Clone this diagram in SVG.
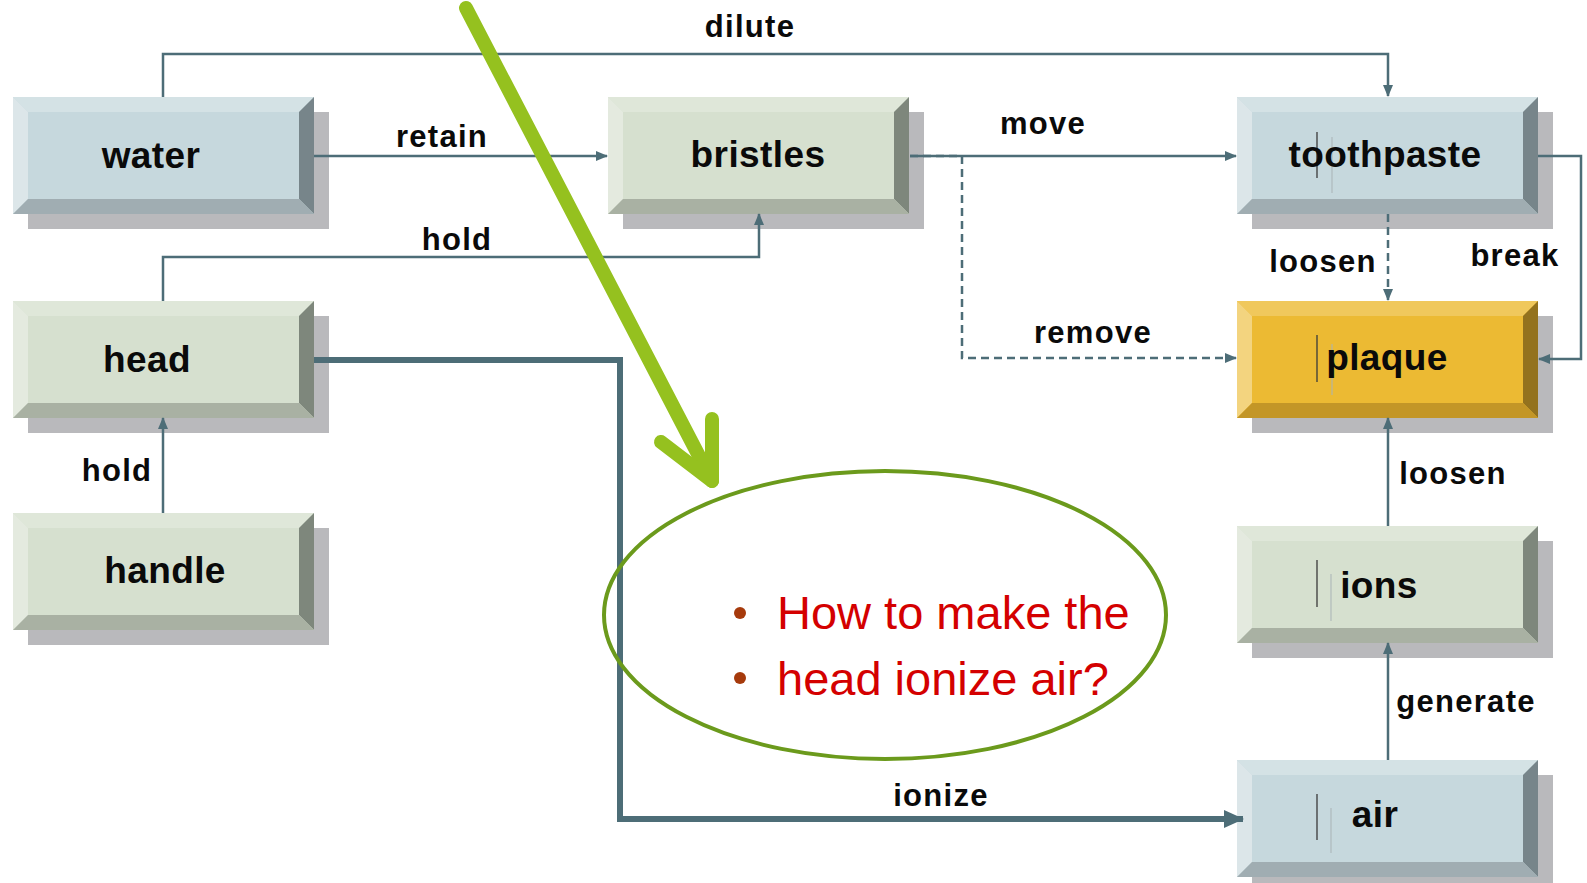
<svg xmlns="http://www.w3.org/2000/svg" xmlns:xlink="http://www.w3.org/1999/xlink" width="1587" height="883" viewBox="0 0 1587 883">
  <style>
    .node-text { font-family: "Liberation Sans", Arial, sans-serif; font-weight: bold; font-size: 37px; fill: #0a0a0a; text-anchor: middle; letter-spacing: 0.4px; }
    .label { font-family: "Liberation Sans", Arial, sans-serif; font-weight: bold; font-size: 31px; fill: #0a0a0a; text-anchor: middle; letter-spacing: 1.3px; }
    .edge { fill: none; stroke: #4d6d77; stroke-width: 2.5; }
    .dashed { stroke-dasharray: 8 5; }
    .thick { stroke-width: 6; }
    .caret { stroke: #3a3a3a; stroke-width: 1.3; }
    .caret-faint { stroke: #a9b3b6; stroke-width: 1; }
    .question { font-family: "Liberation Sans", Arial, sans-serif; font-size: 47px; fill: #d40000; }
    .bullet { fill: #a63a0c; }
    .pointer { fill: none; stroke: #95c11f; stroke-width: 14; stroke-linecap: round; stroke-linejoin: round; }
  </style>
  <defs>
    <marker id="arrow" markerUnits="userSpaceOnUse" viewBox="0 0 12 10" markerWidth="12" markerHeight="10" refX="11" refY="5" orient="auto">
      <path d="M0,0 L12,5 L0,10 z" fill="#4d6d77"/>
    </marker>
    <marker id="arrow-big" markerUnits="userSpaceOnUse" viewBox="0 0 20 18" markerWidth="20" markerHeight="18" refX="19" refY="9" orient="auto">
      <path d="M0,0 L20,9 L0,18 z" fill="#4d6d77"/>
    </marker>
    <!-- bevelled boxes, 301 x 117 with a drop shadow -->
    <g id="box-blue">
      <rect x="15" y="15" width="301" height="117" fill="#b9b9bc"/>
      <rect x="0" y="0" width="301" height="117" fill="#c6d8dd"/>
      <polygon points="0,0 301,0 286,15 15,15" fill="#d4e2e5"/>
      <polygon points="0,0 15,15 15,102 0,117" fill="#dce6e9"/>
      <polygon points="301,0 301,117 286,102 286,15" fill="#77858a"/>
      <polygon points="0,117 15,102 286,102 301,117" fill="#a0adb2"/>
    </g>
    <g id="box-green">
      <rect x="15" y="15" width="301" height="117" fill="#b9b9bc"/>
      <rect x="0" y="0" width="301" height="117" fill="#d6e0cf"/>
      <polygon points="0,0 301,0 286,15 15,15" fill="#dfe7d9"/>
      <polygon points="0,0 15,15 15,102 0,117" fill="#e4eadf"/>
      <polygon points="301,0 301,117 286,102 286,15" fill="#7e877c"/>
      <polygon points="0,117 15,102 286,102 301,117" fill="#a9b1a3"/>
    </g>
    <g id="box-gold">
      <rect x="15" y="15" width="301" height="117" fill="#b9b9bc"/>
      <rect x="0" y="0" width="301" height="117" fill="#ecba33"/>
      <polygon points="0,0 301,0 286,15 15,15" fill="#f0c85c"/>
      <polygon points="0,0 15,15 15,102 0,117" fill="#f3d47f"/>
      <polygon points="301,0 301,117 286,102 286,15" fill="#93721e"/>
      <polygon points="0,117 15,102 286,102 301,117" fill="#c39627"/>
    </g>
  </defs>

  <rect width="1587" height="883" fill="#ffffff"/>

  <!-- nodes -->
  <g id="water">
    <use href="#box-blue" x="13" y="97"/>
    <text class="node-text" x="151" y="168">water</text>
  </g>
  <g id="bristles">
    <use href="#box-green" x="608" y="97"/>
    <text class="node-text" x="758" y="167">bristles</text>
  </g>
  <g id="toothpaste">
    <use href="#box-blue" x="1237" y="97"/>
    <line class="caret" x1="1317" y1="132" x2="1317" y2="178"/>
    <line class="caret-faint" x1="1332" y1="137" x2="1332" y2="193"/>
    <text class="node-text" x="1385" y="167">toothpaste</text>
  </g>
  <g id="head">
    <use href="#box-green" x="13" y="301"/>
    <text class="node-text" x="147" y="372">head</text>
  </g>
  <g id="plaque">
    <use href="#box-gold" x="1237" y="301"/>
    <line class="caret" x1="1317" y1="335" x2="1317" y2="382"/>
    <line class="caret-faint" x1="1332" y1="344" x2="1332" y2="395"/>
    <text class="node-text" x="1387" y="370">plaque</text>
  </g>
  <g id="handle">
    <use href="#box-green" x="13" y="513"/>
    <text class="node-text" x="165" y="583">handle</text>
  </g>
  <g id="ions">
    <use href="#box-green" x="1237" y="526"/>
    <line class="caret" x1="1317" y1="560" x2="1317" y2="607"/>
    <line class="caret-faint" x1="1331" y1="574" x2="1331" y2="621"/>
    <text class="node-text" x="1379" y="598">ions</text>
  </g>
  <g id="air">
    <use href="#box-blue" x="1237" y="760"/>
    <line class="caret" x1="1317" y1="794" x2="1317" y2="840"/>
    <line class="caret-faint" x1="1331" y1="808" x2="1331" y2="853"/>
    <text class="node-text" x="1375" y="827">air</text>
  </g>

  <!-- connectors -->
  <g id="connectors">
    <path class="edge" d="M163,97 V54 H1388 V96" marker-end="url(#arrow)"/>
    <path class="edge" d="M314,156 H607" marker-end="url(#arrow)"/>
    <path class="edge" d="M163,301 V257 H759 V214" marker-end="url(#arrow)"/>
    <path class="edge" d="M910,156 H1236" marker-end="url(#arrow)"/>
    <path class="edge dashed" d="M910,156 H962 V358 H1236" marker-end="url(#arrow)"/>
    <path class="edge dashed" d="M1388,214 V300" marker-end="url(#arrow)"/>
    <path class="edge" d="M1538,156 H1581 V359 H1539" marker-end="url(#arrow)"/>
    <path class="edge" d="M1388,526 V418" marker-end="url(#arrow)"/>
    <path class="edge" d="M1388,760 V643" marker-end="url(#arrow)"/>
    <path class="edge" d="M163,513 V418" marker-end="url(#arrow)"/>
    <path class="edge thick" d="M314,360 H620 V819 H1243" marker-end="url(#arrow-big)"/>

    <text class="label" x="750" y="37">dilute</text>
    <text class="label" x="442" y="147">retain</text>
    <text class="label" x="457" y="250">hold</text>
    <text class="label" x="1043" y="134">move</text>
    <text class="label" x="1093" y="343">remove</text>
    <text class="label" x="1323" y="272">loosen</text>
    <text class="label" x="1515" y="266">break</text>
    <text class="label" x="1453" y="484">loosen</text>
    <text class="label" x="1466" y="712">generate</text>
    <text class="label" x="117" y="481">hold</text>
    <text class="label" x="941" y="806">ionize</text>
  </g>

  <!-- question callout -->
  <g id="callout">
    <ellipse cx="885" cy="615" rx="281" ry="144" fill="none" stroke="#6b9a1c" stroke-width="4"/>
    <circle class="bullet" cx="740" cy="613" r="6"/>
    <circle class="bullet" cx="740" cy="678" r="6"/>
    <text class="question" x="777" y="629">How to make the</text>
    <text class="question" x="777" y="695">head ionize air?</text>
  </g>

  <!-- green pointer -->
  <g id="pointer">
    <path class="pointer" d="M466,8 L712,481"/>
    <path class="pointer" d="M661,442 L712,481 L712,419"/>
  </g>
</svg>
